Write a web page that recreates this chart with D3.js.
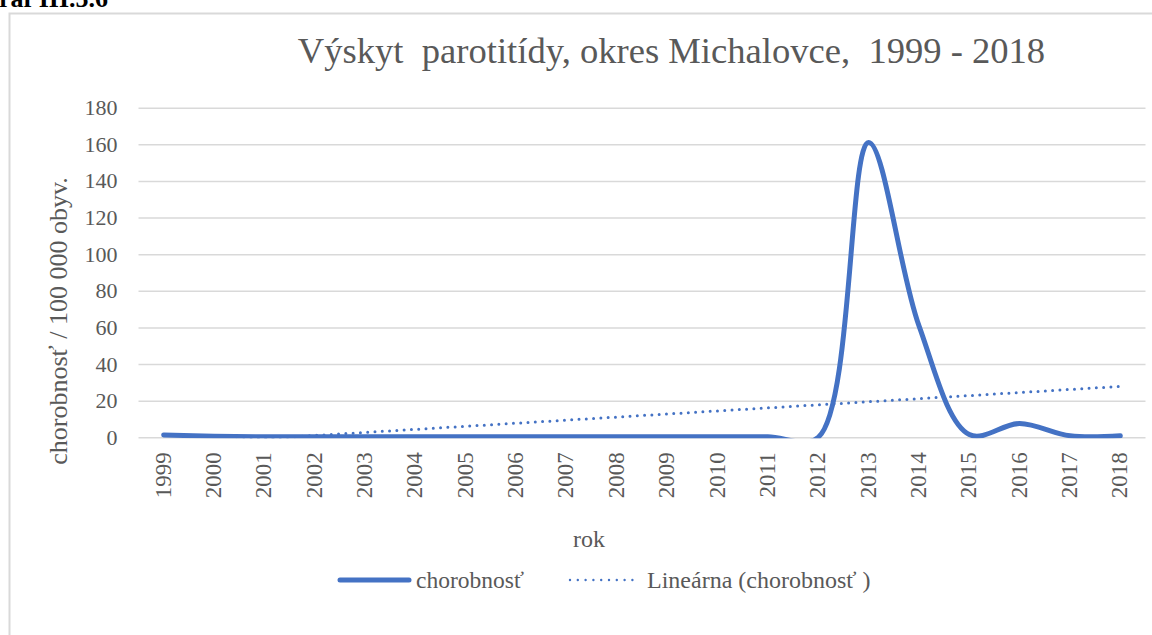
<!DOCTYPE html>
<html>
<head>
<meta charset="utf-8">
<script src="https://cdn.jsdelivr.net/npm/d3@7"></script>
<style>
  html, body { margin: 0; padding: 0; background: #fff; }
  svg { display: block; }
</style>
</head>
<body>
<div id="chart"></div>
<script>
// data
const years = ['1999', '2000', '2001', '2002', '2003', '2004', '2005', '2006', '2007', '2008',
               '2009', '2010', '2011', '2012', '2013', '2014', '2015', '2016', '2017', '2018'];
const incidence = [1.3, 0.6, 0.3, 0.3, 0.3, 0.3, 0.3, 0.3, 0.3, 0.3,
                   0.3, 0.3, 0.3, 0, 161, 61, 1.5, 7.5, 0.8, 0.8];
const yTicks = [0, 20, 40, 60, 80, 100, 120, 140, 160, 180];

const W = 1152, H = 635;
const plot = { left: 138.5, right: 1145.5, top: 107.7, bottom: 437.3 };
const blue = '#4472C4';
const grey = '#595959';
const serif = '"Liberation Serif", "Times New Roman", serif';

const svg = d3.select('#chart').append('svg')
  .attr('width', W)
  .attr('height', H)
  .attr('font-family', serif);

// frame of the chart, cut off at right and bottom
svg.append('rect')
  .attr('x', 9.5).attr('y', 13.5)
  .attr('width', W + 20).attr('height', H + 20)
  .attr('fill', 'none')
  .attr('stroke', '#d9d9d9')
  .attr('stroke-width', 2);

// caption of the page, its top is cropped away in the source
svg.append('text')
  .attr('x', 108).attr('y', 7)
  .attr('text-anchor', 'end')
  .style('font-family', serif)
  .style('font-size', '26px')
  .style('font-weight', 'bold')
  .attr('fill', '#000')
  .text('Graf III.5.6');

const x = d3.scaleBand().domain(years).range([plot.left, plot.right]);
const cx = d => x(d) + x.bandwidth() / 2;
const y = d3.scaleLinear().domain([0, 180]).range([plot.bottom, plot.top]);

// gridlines + y labels
const yAxis = svg.append('g')
  .attr('transform', `translate(${plot.left},0)`)
  .call(d3.axisLeft(y).tickValues(yTicks).tickSize(-(plot.right - plot.left)).tickPadding(21));
yAxis.select('.domain').remove();
yAxis.attr('font-family', serif);
yAxis.selectAll('.tick line').attr('stroke', '#d9d9d9').attr('stroke-width', 1.6);
yAxis.selectAll('.tick text')
  .attr('fill', grey)
  .style('font-size', '22px')
  .style('font-family', serif);

// x labels, rotated
const xAxis = svg.append('g')
  .attr('transform', `translate(0,${plot.bottom})`)
  .call(d3.axisBottom(x).tickSize(0));
xAxis.select('.domain').remove();
xAxis.attr('font-family', serif);
xAxis.selectAll('.tick text')
  .attr('fill', grey)
  .style('font-size', '23px')
  .style('font-family', serif)
  .attr('text-anchor', 'end')
  .attr('dy', null)
  .attr('y', 0)
  .attr('transform', 'translate(7,15) rotate(-90)');

// clip to plot area
svg.append('defs').append('clipPath').attr('id', 'plotclip')
  .append('rect')
  .attr('x', plot.left).attr('y', 0)
  .attr('width', plot.right - plot.left)
  .attr('height', plot.bottom + 1);

// linear trend (least squares over the series)
const n = incidence.length;
const xs = d3.range(n);
const mx = d3.mean(xs), my = d3.mean(incidence);
const slope = d3.sum(xs, i => (i - mx) * (incidence[i] - my)) / d3.sum(xs, i => (i - mx) * (i - mx));
const icpt = my - slope * mx;
const trend = xs.map(i => icpt + slope * i);

const g = svg.append('g').attr('clip-path', 'url(#plotclip)');

g.append('path')
  .datum(trend)
  .attr('d', d3.line().x((d, i) => cx(years[i])).y(d => y(d)))
  .attr('fill', 'none')
  .attr('stroke', blue)
  .attr('stroke-width', 3)
  .attr('stroke-linecap', 'round')
  .attr('stroke-dasharray', '0 7.3');

g.append('path')
  .datum(incidence)
  .attr('d', d3.line().curve(d3.curveCatmullRom.alpha(0.5)).x((d, i) => cx(years[i])).y(d => y(d)))
  .attr('fill', 'none')
  .attr('stroke', blue)
  .attr('stroke-width', 5)
  .attr('stroke-linecap', 'round')
  .attr('stroke-linejoin', 'round');

// title
svg.append('text')
  .attr('x', 671.5).attr('y', 63)
  .attr('text-anchor', 'middle')
  .attr('fill', grey)
  .style('font-family', serif)
  .style('font-size', '36.6px')
  .style('white-space', 'pre')
  .text('Výskyt  parotitídy, okres Michalovce,  1999 - 2018');

// axis titles
svg.append('text')
  .attr('transform', 'translate(67,321) rotate(-90)')
  .attr('text-anchor', 'middle')
  .attr('fill', grey)
  .style('font-family', serif)
  .style('font-size', '26px')
  .text('chorobnosť / 100 000 obyv.');

svg.append('text')
  .attr('x', 589).attr('y', 547)
  .attr('text-anchor', 'middle')
  .attr('fill', grey)
  .style('font-family', serif)
  .style('font-size', '24px')
  .text('rok');

// legend
const leg = svg.append('g').attr('transform', 'translate(0,580)');
leg.append('line')
  .attr('x1', 340).attr('x2', 409).attr('y1', 0).attr('y2', 0)
  .attr('stroke', blue).attr('stroke-width', 5).attr('stroke-linecap', 'round');
leg.append('text')
  .attr('x', 416).attr('y', 8)
  .attr('fill', grey)
  .style('font-family', serif)
  .style('font-size', '23.5px')
  .text('chorobnosť');
leg.append('line')
  .attr('x1', 570).attr('x2', 634).attr('y1', 0).attr('y2', 0)
  .attr('stroke', blue).attr('stroke-width', 2.4).attr('stroke-linecap', 'round')
  .attr('stroke-dasharray', '0 7.8');
leg.append('text')
  .attr('x', 647).attr('y', 8)
  .attr('fill', grey)
  .style('font-family', serif)
  .style('font-size', '24px')
  .style('white-space', 'pre')
  .text('Lineárna (chorobnosť )');
</script>
</body>
</html>
